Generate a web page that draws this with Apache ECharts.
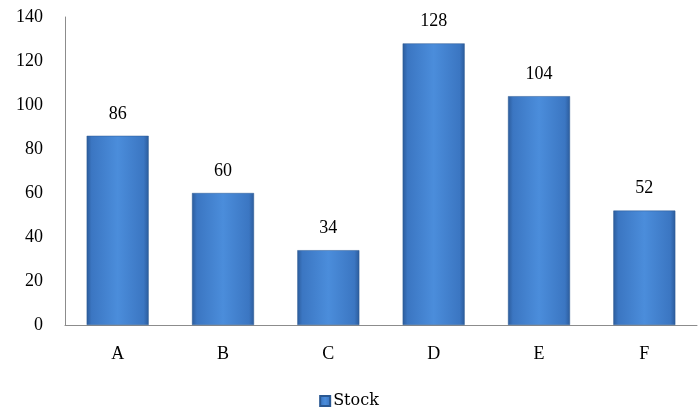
<!DOCTYPE html>
<html>
<head>
<meta charset="utf-8">
<script src="https://cdn.jsdelivr.net/npm/echarts@6/dist/echarts.min.js"></script>
<style>
  html, body { margin: 0; padding: 0; background: #fff; }
  #chart { width: 698px; height: 410px; }
</style>
</head>
<body>
<div id="chart"></div>
<script>
const categories = ['A', 'B', 'C', 'D', 'E', 'F']
const stock = [86, 60, 34, 128, 104, 52]
const yTicks = { min: 0, max: 140, step: 20 }

const font = '"Liberation Serif", "Times New Roman", serif'

const barFill = new echarts.graphic.LinearGradient(0, 0, 1, 0, [
  { offset: 0, color: '#2c5c9c' },
  { offset: 0.08, color: '#3b76c2' },
  { offset: 0.5, color: '#4b8ddb' },
  { offset: 0.92, color: '#3b76c2' },
  { offset: 1, color: '#2c5c9c' }
])

const chart = echarts.init(document.getElementById('chart'))
chart.setOption({
  animation: false,
  textStyle: { fontFamily: font },
  grid: { left: 65, right: 1, top: 17, bottom: 85, containLabel: false },
  legend: {
    top: 388,
    left: 'center',
    itemWidth: 10,
    itemHeight: 10,
    itemGap: 4,
    textStyle: { fontFamily: '"DejaVu Serif", serif', fontSize: 16, color: '#000', padding: [0, 0, 0, -2] },
    data: [{ name: 'Stock', icon: 'rect' }]
  },
  xAxis: {
    type: 'category',
    data: categories,
    axisLine: { lineStyle: { color: '#8c8c8c', width: 1 } },
    axisTick: { show: false },
    axisLabel: { color: '#000', fontSize: 18, fontFamily: font, margin: 20 }
  },
  yAxis: {
    type: 'value',
    min: yTicks.min,
    max: yTicks.max,
    interval: yTicks.step,
    axisLine: { show: true, lineStyle: { color: '#8c8c8c', width: 1 } },
    axisTick: { show: false },
    splitLine: { show: false },
    axisLabel: { color: '#000', fontSize: 18, fontFamily: font, margin: 22 }
  },
  series: [{
    name: 'Stock',
    type: 'bar',
    data: stock,
    barWidth: 62,
    itemStyle: { color: barFill, borderColor: '#2a5892', borderWidth: 0.5 },
    label: {
      show: true,
      position: 'top',
      distance: 13,
      color: '#000',
      fontSize: 18,
      fontFamily: font
    }
  }]
})
</script>
</body>
</html>
